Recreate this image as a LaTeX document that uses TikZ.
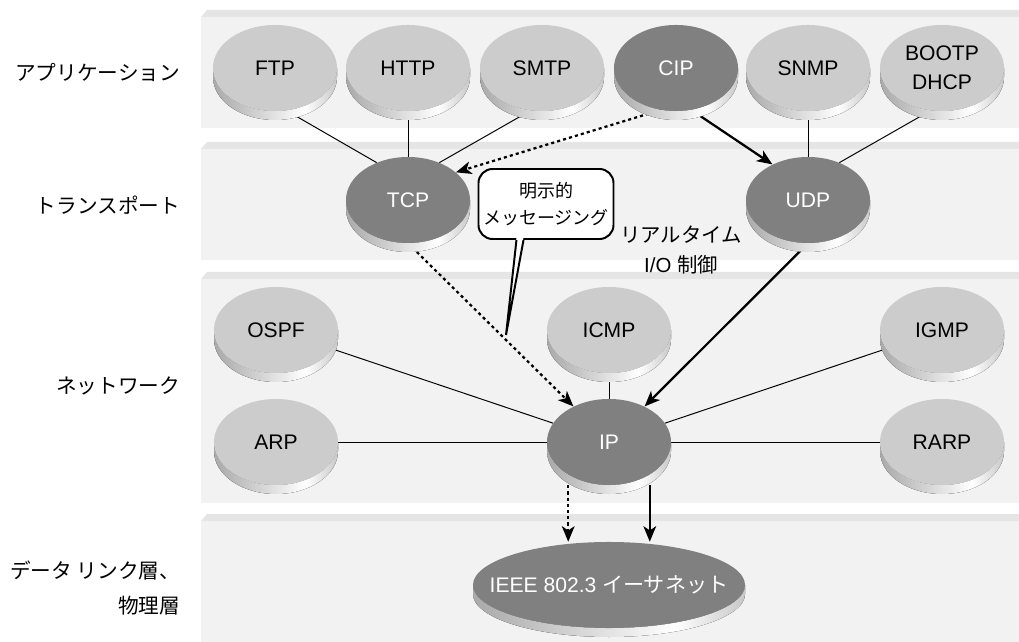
\documentclass[tikz,border=0pt]{standalone}
\usepackage{fontspec}
\setmainfont{Liberation Sans}
\newfontfamily\jpfont{Noto Sans CJK JP}
\usepackage{tikz}
\usetikzlibrary{shapes.geometric,arrows.meta}
\pgfdeclarelayer{back}
\pgfdeclarelayer{bg}
\pgfsetlayers{back,bg,main}
\pgfdeclarehorizontalshading{discside}{100bp}{color(0bp)=(black!55); color(35bp)=(black!25); color(62bp)=(white); color(80bp)=(black!30); color(100bp)=(black!60)}

% one grey layer band: top, bottom
\newcommand{\layerband}[2]{%
  \fill[black!5] (201,#1+7) rectangle (1019,#2);
  \fill[black!10] (201,#1+7) -- (207,#1) -- (1019,#1) -- (1019,#1+7) -- cycle;}
% rim of a disc: x, y, x radius, y radius
\newcommand{\discside}[4]{%
  \fill[shading=discside] (#1-#3,#2) -- (#1-#3,#2+9)
    arc[start angle=180,end angle=0,x radius=#3,y radius=#4]
    -- (#1+#3,#2) arc[start angle=0,end angle=180,x radius=#3,y radius=#4] -- cycle;}
% disc = rim + face: [x radius]{style}{name}{x}{y}{text}
\newcommand{\disc}[6][62]{%
  \discside{#4}{#5}{#1}{43}
  \node[#2] (#3) at (#4,#5) {#6};}

\begin{document}
\begin{tikzpicture}[x=0.025cm,y=-0.025cm,
    proto/.style={ellipse,minimum width=3.1cm,minimum height=2.15cm,inner sep=0pt,
      align=center,font=\fontsize{15}{20.6}\selectfont},
    lite/.style={proto,fill=black!20},
    dark/.style={proto,fill=black!50,text=white},
    layername/.style={anchor=east,align=right,font=\jpfont\fontsize{14.7}{25}\selectfont},
    link/.style={line width=0.7pt},
    flow/.style={line width=1.6pt,-{Stealth[length=11pt,width=9pt,inset=3pt]}},
    dotflow/.style={flow,dash pattern=on 2.2pt off 2.2pt}]
  \useasboundingbox (0,0) rectangle (1019,642);

  \begin{pgfonlayer}{back}    % the four layers
    \layerband{10}{128}
    \layerband{142}{260}
    \layerband{272}{503}
    \layerband{514}{642}
  \end{pgfonlayer}

  % layer names
  \node[layername] (lapp) at (185,72) {アプリケーション};
  \node[layername] (ltrans) at (185,205) {トランスポート};
  \node[layername] (lnet) at (185,386) {ネットワーク};
  \node[layername] (llink) at (185,588) {データ リンク層、\\物理層};

  % application
  \disc{lite}{ftp}{275}{68}{FTP}
  \disc{lite}{http}{408}{68}{HTTP}
  \disc{lite}{smtp}{542}{68}{SMTP}
  \disc{dark}{cip}{676}{68}{CIP}
  \disc{lite}{snmp}{808}{68}{SNMP}
  \disc{lite}{dhcp}{942}{68}{BOOTP\\DHCP}
  % transport
  \disc{dark}{tcp}{408}{200}{TCP}
  \disc{dark}{udp}{808}{200}{UDP}
  % network
  \disc{lite}{ospf}{276}{330}{OSPF}
  \disc{lite}{icmp}{609}{330}{ICMP}
  \disc{lite}{igmp}{942}{330}{IGMP}
  \disc{lite}{arp}{276}{442}{ARP}
  \disc{dark}{ip}{609}{442}{IP}
  \disc{lite}{rarp}{942}{442}{RARP}
  % data link
  \disc[136]{dark,minimum width=6.8cm}{eth}{609}{585}{\makebox[0pt]{IEEE 802.3 {\jpfont イーサネット}}}

  \begin{pgfonlayer}{bg}    % connectors behind the discs
    \draw[link] (ftp.285) -- (tcp.130);
    \draw[link] (http) -- (tcp);
    \draw[link] (smtp.255) -- (tcp.50);
    \draw[dotflow] (cip.250) -- (tcp.30);
    \draw[flow] (cip.290) -- (udp.135);
    \draw[link] (snmp) -- (udp);
    \draw[link] (dhcp.255) -- (udp.50);
    \draw[dotflow] (tcp.south) -- (ip.135);
    \draw[flow] (udp.south) -- (ip.45);
    \draw[link] (ospf) -- (ip);
    \draw[link] (icmp) -- (ip);
    \draw[link] (igmp) -- (ip);
    \draw[link] (arp) -- (ip);
    \draw[link] (rarp) -- (ip);
    \draw[dotflow] ([xshift=-29pt]ip.south) -- ([xshift=-29pt]eth.north);
    \draw[flow] ([xshift=29pt]ip.south) -- ([xshift=29pt]eth.north);
  \end{pgfonlayer}

  % explicit messaging callout
  \node[draw,line width=1.4pt,fill=white,rounded corners=10pt,minimum width=3.3cm,
    minimum height=1.75cm,align=center,font=\jpfont\fontsize{12.8}{19}\selectfont]
    (msg) at (546,204) {明示的\\メッセージング};
  \coordinate (msgtip) at (506,335);
  \fill[white] ([xshift=-21pt,yshift=2pt]msg.south) -- (msgtip)
    -- ([xshift=-16pt,yshift=2pt]msg.south) -- cycle;
  \draw[line width=1.4pt] ([xshift=-21pt]msg.south) -- (msgtip) -- ([xshift=-16pt]msg.south);

  \node[align=center,font=\fontsize{14.5}{21}\selectfont] (rtio) at (681,250)
    {{\jpfont リアルタイム}\\I/O {\jpfont 制御}};
\end{tikzpicture}
\end{document}
